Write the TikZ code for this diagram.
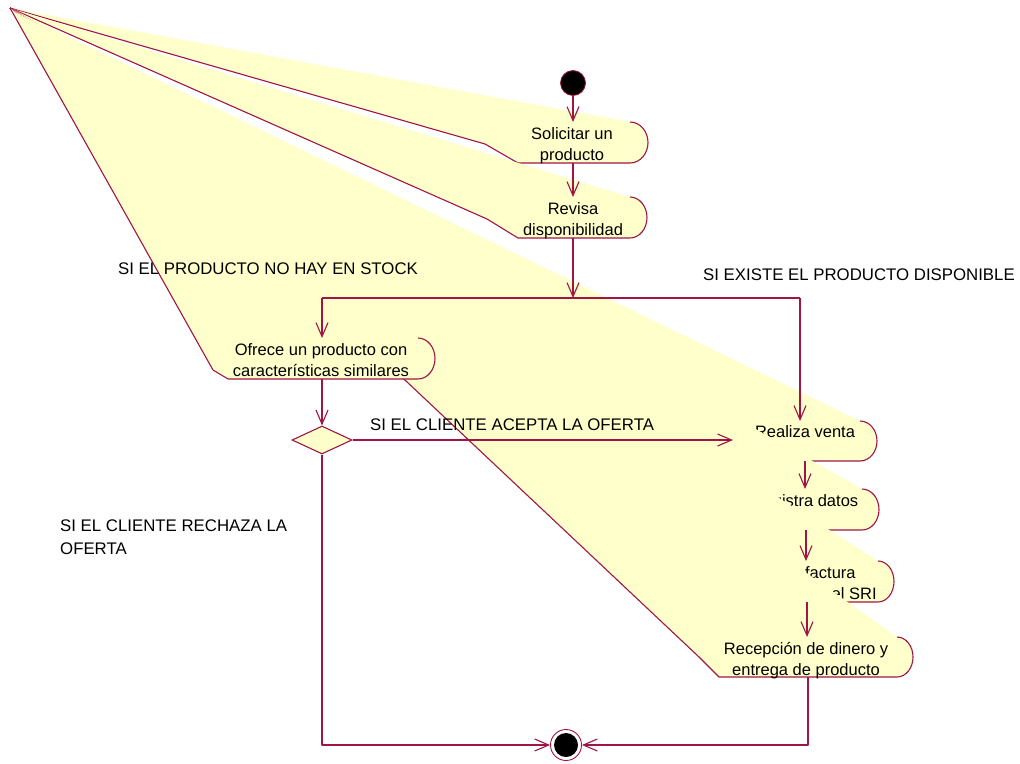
\documentclass[tikz,border=0pt]{standalone}
\usepackage{fontspec}
\setmainfont{Liberation Sans}
\usetikzlibrary{arrows.meta,shapes.geometric}
\definecolor{roseline}{RGB}{160,20,70}
\definecolor{rosefill}{RGB}{255,255,204}

% Activity outline: #1 x where the right arc starts, #2 right bulge x,
% #3 top y, #4 bottom y, #5 x where the bottom edge ends on the left,
% (#6,#7) lower left knee. The left end is pulled out to the point (apex);
% only the lower edge is stroked.
\newcommand\activity[7]{%
  \fill[rosefill] (apex) -- (#1,#3)
    .. controls ({#1+0.552*(#2-#1)},#3) and (#2,{(#3+#4)/2-0.276*(#4-#3)}) .. (#2,{(#3+#4)/2})
    .. controls (#2,{(#3+#4)/2+0.276*(#4-#3)}) and ({#1+0.552*(#2-#1)},#4) .. (#1,#4)
    -- (#5,#4) -- (#6,#7) -- cycle;
  \draw[edge] (#1,#3)
    .. controls ({#1+0.552*(#2-#1)},#3) and (#2,{(#3+#4)/2-0.276*(#4-#3)}) .. (#2,{(#3+#4)/2})
    .. controls (#2,{(#3+#4)/2+0.276*(#4-#3)}) and ({#1+0.552*(#2-#1)},#4) .. (#1,#4)
    -- (#5,#4) -- (#6,#7) -- (apex);
}

\tikzset{
  edge/.style={draw=roseline, line width=1.1pt, line join=round},
  flow/.style={edge, -{Straight Barb[length=14pt,width=12pt,line width=1.1pt]}},
  acttext/.style={inner sep=0pt, anchor=north, align=center,
    font=\fontsize{16.5}{21}\selectfont},
  guard/.style={inner sep=0pt, anchor=north west, align=left,
    font=\fontsize{16.8}{23}\selectfont},
}
\newcommand\firstline{\rule{0pt}{12.5pt}}

\begin{document}
\begin{tikzpicture}[x=1pt,y=-1pt]
\useasboundingbox (0,0) rectangle (1020,763);
\coordinate (apex) at (10,8);

% activity states, later ones lie over earlier ones
\activity{630}{648}{122}{163}{518}{485}{144}
\node[acttext] (sol) at (572,126.5) {\firstline Solicitar un\\producto};

\activity{630}{647}{197}{238}{518}{487}{219}
\node[acttext] (rev) at (573,201.5) {\firstline Revisa\\disponibilidad};

\activity{860}{877}{421}{461}{753}{733}{441}
\node[acttext] (rea) at (805,424.5) {\firstline Realiza venta};

\activity{862}{879}{489}{530}{757}{737}{510}
\node[acttext] (reg) at (805,493.5) {\firstline Registra datos};

\activity{878}{894}{561}{602}{740}{720}{582}
\node[acttext] (fac) at (807,565.5) {\firstline Emite factura\\validada por el SRI};

\activity{897}{913}{637}{677}{719}{699}{657}
\node[acttext] (rec) at (806,641.5) {\firstline Recepción de dinero y\\entrega de producto};

\activity{418}{435}{338}{379}{228}{213}{370}
\node[acttext] (ofr) at (321,342.5) {\firstline Ofrece un producto con\\características similares};

% initial, decision and final states
\node[circle, fill=black, draw=roseline, line width=0.8pt, minimum size=25pt, inner sep=0pt] (ini) at (573,83) {};
\node[diamond, draw=roseline, fill=rosefill, line width=1.1pt, minimum width=60pt, minimum height=28pt, inner sep=0pt] (dec) at (322,440) {};
\node[circle, draw=roseline, line width=0.9pt, fill=white, minimum size=31pt, inner sep=0pt] (fin) at (566,745) {};
\node[circle, fill=black, minimum size=24pt, inner sep=0pt] (finc) at (566,745) {};

% ends of the transitions on the activity outlines
\coordinate (sol-n) at (573,122);  \coordinate (sol-s) at (573,163);
\coordinate (rev-n) at (573,197);  \coordinate (rev-s) at (573,238);
\coordinate (ofr-n) at (322,338);  \coordinate (ofr-s) at (322,379);
\coordinate (rea-n) at (800,421);  \coordinate (rea-w) at (733,440);
\coordinate (rea-s) at (805,461);  \coordinate (reg-n) at (805,489);
\coordinate (reg-s) at (806,530);  \coordinate (fac-n) at (806,561);
\coordinate (fac-s) at (807,602);  \coordinate (rec-n) at (807,637);
\coordinate (rec-s) at (808,677);

% branch after the availability check
\coordinate (br) at (573,298);
\coordinate (brl) at (322,298);
\coordinate (brr) at (800,298);
\coordinate (lowl) at (322,745);
\coordinate (lowr) at (808,745);

% transitions
\draw[flow] (ini) -- (sol-n);
\draw[flow] (sol-s) -- (rev-n);
\draw[flow] (rev-s) -- (br);
\draw[edge] (brl) -- (brr);
\draw[flow] (brl) -- (ofr-n);
\draw[flow] (brr) -- (rea-n);
\draw[flow] (ofr-s) -- (dec.north);
\draw[flow] (dec.east) -- (rea-w);
\draw[flow] (rea-s) -- (reg-n);
\draw[flow] (reg-s) -- (fac-n);
\draw[flow] (fac-s) -- (rec-n);
\draw[flow] (dec.south) -- (lowl) -- (fin.west);
\draw[flow] (rec-s) -- (lowr) -- (fin.east);

% guard labels
\node[guard] (g1) at (118,261.5) {\firstline SI EL PRODUCTO NO HAY EN STOCK};
\node[guard] (g2) at (703,267.5) {\firstline SI EXISTE EL PRODUCTO DISPONIBLE};
\node[guard] (g3) at (370,417.5) {\firstline SI EL CLIENTE ACEPTA LA OFERTA};
\node[guard] (g4) at (60,518.5) {\firstline SI EL CLIENTE RECHAZA LA\\OFERTA};
\end{tikzpicture}
\end{document}
